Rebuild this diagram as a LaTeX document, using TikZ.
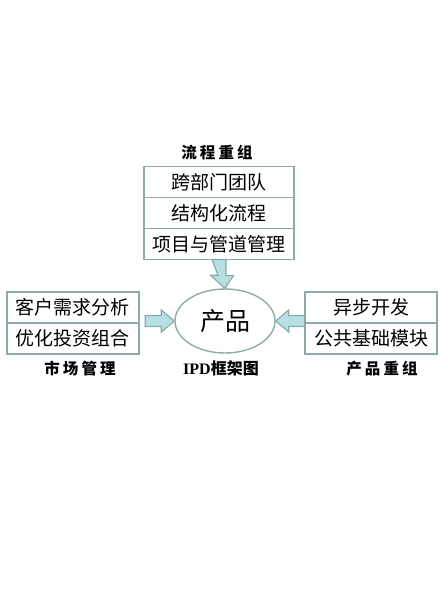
\documentclass[tikz,border=0pt]{standalone}
\usepackage{fontspec}
\newfontfamily\cjk{Noto Sans CJK SC}
\newfontfamily\cjkcap[LetterSpace=20]{Noto Sans CJK SC}
\newfontfamily\ser{Liberation Serif}
\usetikzlibrary{positioning,shapes.geometric,calc}
\definecolor{boxline}{HTML}{8FAAAA}
\definecolor{arrfill}{HTML}{B7DEE0}
\definecolor{arrline}{HTML}{86ADAE}
\tikzset{
  rowbox/.style={draw=boxline, line width=1.4pt, rectangle, inner sep=0pt, outer sep=0pt,
    minimum height=31pt, font=\cjk\fontsize{19}{19}\selectfont},
  caption/.style={font=\cjkcap\bfseries\fontsize{15.5}{15.5}\selectfont},
  blockarrow/.style={draw=arrline, fill=arrfill, line width=1.2pt, line join=miter}
}
\begin{document}
\begin{tikzpicture}[x=1pt, y=-1pt]
  \useasboundingbox (0,0) rectangle (441,605);

  % top group
  \node[caption] (lt) at (217,153) {流程重组};
  \node[rowbox, minimum width=150pt] (t1) at (219,182) {跨部门团队};
  \node[rowbox, minimum width=150pt, below=0pt of t1] (t2) {结构化流程};
  \node[rowbox, minimum width=150pt, below=0pt of t2] (t3) {项目与管道管理};

  % left group
  \node[rowbox, minimum width=132pt] (l1) at (73,307.5) {客户需求分析};
  \node[rowbox, minimum width=132pt, below=0pt of l1] (l2) {优化投资组合};
  \node[caption] (ll) at (80,369) {市场管理};

  % right group
  \node[rowbox, minimum width=132pt] (r1) at (371,307.5) {异步开发};
  \node[rowbox, minimum width=132pt, below=0pt of r1] (r2) {公共基础模块};
  \node[caption] (lr) at (382,369) {产品重组};

  % product
  \node[ellipse, draw=boxline, line width=1.4pt, minimum width=100pt, minimum height=64pt,
    font=\cjk\fontsize{25}{25}\selectfont] (prod) at (225,321) {产品};
  \node[font=\ser\bfseries\fontsize{16}{16}\selectfont] (lp) at (221,368) {IPD\cjk 框架图};

  % block arrows
  \draw[blockarrow] (prod.north) -- ++(-14.5,-13) -- ++(7.5,0) -- ($(t3.south)+(-7,0)$)
    -- ($(t3.south)+(7,0)$) -- ++(0,16) -- ++(7.5,0) -- cycle;
  \draw[blockarrow] (prod.west) -- ++(-13,-11) -- ++(0,5.5) -- ++(-16,0) -- ++(0,11)
    -- ++(16,0) -- ++(0,5.5) -- cycle;
  \draw[blockarrow] (prod.east) -- ++(13,-11) -- ++(0,5.5) -- ++(16,0) -- ++(0,11)
    -- ++(-16,0) -- ++(0,5.5) -- cycle;
\end{tikzpicture}
\end{document}
